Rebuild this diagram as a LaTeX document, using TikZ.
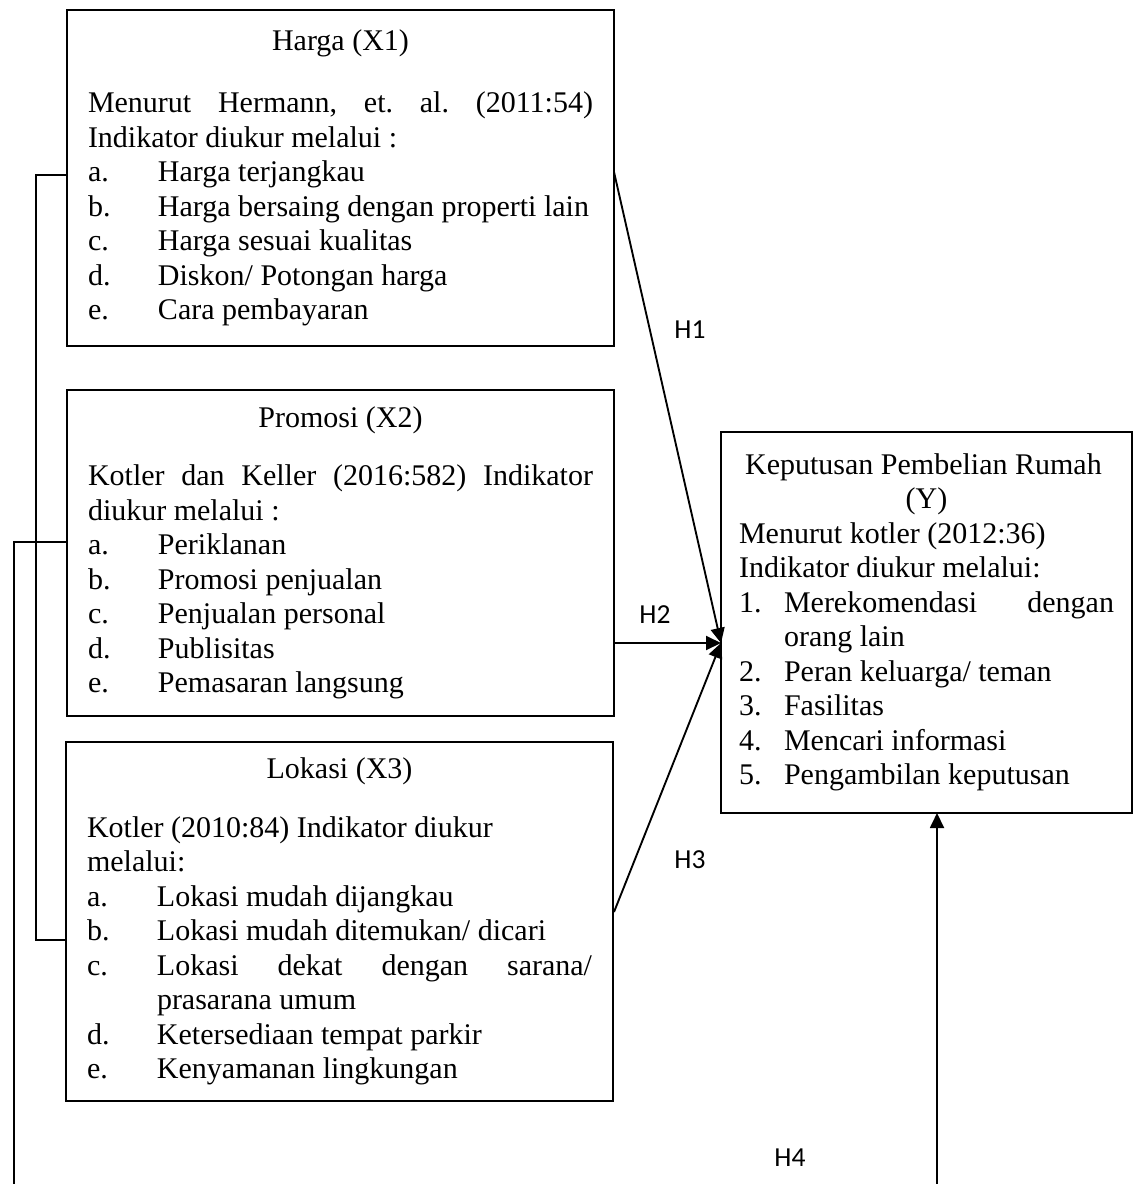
\documentclass[tikz,border=0pt]{standalone}
\usepackage{fontspec}
\setmainfont{Liberation Serif}
\newfontfamily\hfont{Carlito}
\usetikzlibrary{arrows.meta}
\setlength{\parindent}{0pt}
\frenchspacing
\hyphenpenalty=10000
\exhyphenpenalty=10000
% list line with hanging label
\newcommand{\litem}[3][28pt]{\par\noindent\hangindent=#1\hangafter=1\makebox[#1][l]{#2}#3}

\tikzset{
  varbox/.style={draw, line width=0.75pt, anchor=north west, outer sep=0pt,
    inner xsep=8.4pt, inner ysep=0pt, text width=202pt, align=justify,
    font=\fontsize{12}{13.8}\selectfont},
  hlabel/.style={font=\hfont\fontsize{11}{13}\selectfont, inner sep=0.75pt},
  arr/.style={-{Triangle[length=6pt,width=5.6pt]}, line width=0.75pt}
}

\begin{document}
\begin{tikzpicture}[x=0.4pt,y=0.4pt,yscale=-1,xscale=1]
    \useasboundingbox (0,0) rectangle (1134,1184);

    %Shape: Rectangle [Harga]
    \node [varbox, minimum width=218.8pt, minimum height=134.4pt] (x1) at (67,10) {%
      {\centering Harga (X1)\par}\vspace{11pt}
      Menurut Hermann, et. al. (2011:54)\linebreak Indikator diukur melalui :
      \litem{a.}{Harga terjangkau}
      \litem{b.}{Harga bersaing dengan properti lain}
      \litem{c.}{Harga sesuai kualitas}
      \litem{d.}{Diskon/ Potongan harga}
      \litem{e.}{Cara pembayaran}\par\vspace{3.5pt}};
    %Shape: Rectangle [Promosi]
    \node [varbox, minimum width=218.8pt, minimum height=130.4pt] (x2) at (67,390) {%
      {\centering Promosi (X2)\par}\vspace{9.5pt}
      Kotler dan Keller (2016:582) Indikator\linebreak diukur melalui :
      \litem{a.}{Periklanan}
      \litem{b.}{Promosi penjualan}
      \litem{c.}{Penjualan personal}
      \litem{d.}{Publisitas}
      \litem{e.}{Pemasaran langsung}\par};
    %Shape: Rectangle [Lokasi]
    \node [varbox, minimum width=218.8pt, minimum height=143.6pt] (x3) at (66,742) {%
      {\centering Lokasi (X3)\par}\vspace{9.5pt}
      Kotler (2010:84) Indikator diukur\newline melalui:
      \litem{a.}{Lokasi mudah dijangkau}
      \litem{b.}{Lokasi mudah ditemukan/ dicari}
      \litem{c.}{Lokasi dekat dengan sarana/\linebreak prasarana umum}
      \litem{d.}{Ketersediaan tempat parkir}
      \litem{e.}{Kenyamanan lingkungan}\par};
    %Shape: Rectangle [Keputusan]
    \node [varbox, inner xsep=7.2pt, text width=150pt, minimum width=164.4pt, minimum height=152.4pt] (y) at (721,432) {%
      {\centering Keputusan Pembelian Rumah\newline (Y)\par}
      Menurut kotler (2012:36)\newline Indikator diukur melalui:
      \litem[18pt]{1.}{Merekomendasi dengan\linebreak orang lain}
      \litem[18pt]{2.}{Peran keluarga/ teman}
      \litem[18pt]{3.}{Fasilitas}
      \litem[18pt]{4.}{Mencari informasi}
      \litem[18pt]{5.}{Pengambilan keputusan}\par};

    % Connector ends
    \coordinate (yin) at (721,643);
    \coordinate (h1s) at (614,172);
    \coordinate (h2s) at (614,643);
    \coordinate (h3s) at (614,912);
    \coordinate (h4s) at (937,1184);
    \coordinate (h4e) at (937,813);
    \coordinate (b1) at (67,175);
    \coordinate (b2) at (67,542);
    \coordinate (b3) at (66,940);

    %Straight Lines [H1 - H4]
    \draw [arr] (h1s) -- (yin);
    \draw [arr] (h2s) -- (yin);
    \draw [arr] (h3s) -- (yin);
    \draw [arr] (h4s) -- (h4e);
    %Straight Lines [bracket]
    \draw [line width=0.75pt] (b1) -- (36,175) -- (36,940) -- (b3);
    \draw [line width=0.75pt] (b2) -- (14,542) -- (14,1184);

    % Text Node
    \node [hlabel] (lh1) at (690,330) {H1};
    % Text Node
    \node [hlabel] (lh2) at (655,615) {H2};
    % Text Node
    \node [hlabel] (lh3) at (690,860) {H3};
    % Text Node
    \node [hlabel] (lh4) at (790,1158) {H4};
\end{tikzpicture}
\end{document}
